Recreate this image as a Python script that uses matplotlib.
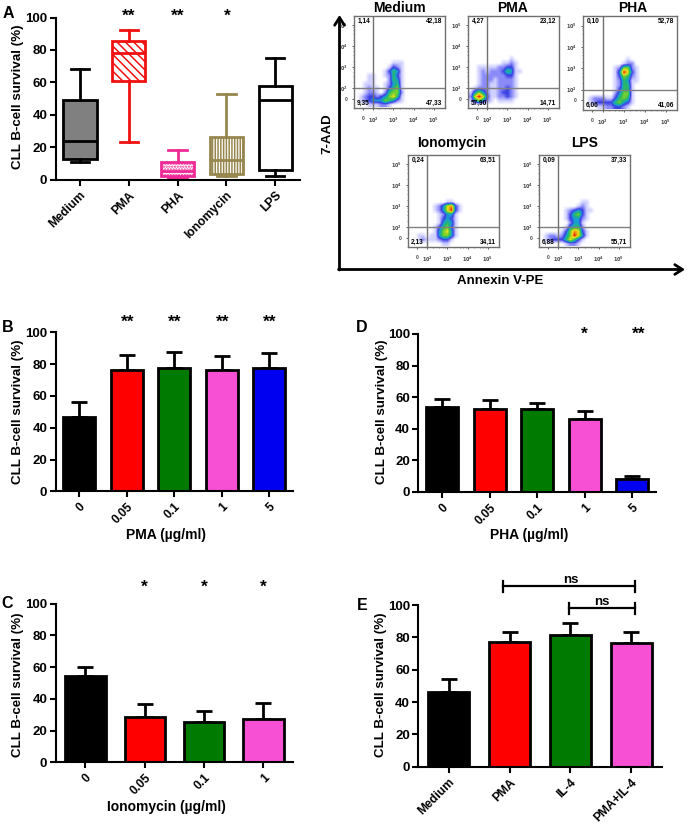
import numpy as np
import matplotlib
matplotlib.use("Agg")
import matplotlib.pyplot as plt
from matplotlib.colors import LinearSegmentedColormap

plt.rcParams['font.family'] = ['Liberation Sans', 'DejaVu Sans']
plt.rcParams['font.weight'] = 'bold'
plt.rcParams['hatch.linewidth'] = 1.1

# panel A, box plots
a_labels = ['Medium', 'PMA', 'PHA', 'Ionomycin', 'LPS']
a_low = [11, 23, 1, 2, 2]
a_q1 = [12.5, 60.5, 2, 3.5, 6]
a_med = [24, 78, 5, 12, 49]
a_q3 = [49, 85.5, 10.5, 26, 58]
a_high = [68, 92, 18, 53, 75]
a_colors = ['black', '#f01010', '#ee2a96', '#97874f', 'black']
a_faces = ['#808080', 'white', 'white', 'white', 'white']
a_hatch = [None, '\\\\\\\\', '......', '||||||', None]

# bar panels
b_labels = ['0', '0.05', '0.1', '1', '5']
b_vals = [47, 76, 77.5, 76, 77.5]
b_err = [9, 9.5, 10, 9, 9.5]

c_labels = ['0', '0.05', '0.1', '1']
c_vals = [54.5, 28.5, 25.5, 27.5]
c_err = [5.5, 8.5, 7, 10]

d_labels = ['0', '0.05', '0.1', '1', '5']
d_vals = [54, 52.5, 52.5, 46.5, 8.5]
d_err = [5, 6, 4, 4.5, 1.5]

e_labels = ['Medium', 'PMA', 'IL-4', 'PMA+IL-4']
e_vals = [46, 77, 81.5, 76.5]
e_err = [8.5, 6, 7.5, 6.5]

bar_colors = ['black', '#ff0000', '#007a00', '#f750d5', '#0000f0']

# flow panels, density level per cell (0 empty .. 9 highest)
medium_grid = [
    '000000000000000', '000000000000000', '000000000000000', '000000000000000',
    '000000000111000', '000000001321000', '000000013541000', '000110012531000',
    '000110002541000', '001110012451000', '001211013561000', '001221025662000',
    '012332346751000', '012344465421000', '000111221000000']
pma_grid = [
    '000000000000000', '000000000000000', '000000000000000', '000000000010000',
    '000000001121000', '001111122331000', '001212223541100', '001222222331000',
    '001222122221000', '001221122221000', '012221122321000', '146421123321000',
    '279731122321000', '146421011110000', '000000000000000']
pha_grid = [
    '000000000000000', '000000000000000', '000000000000000', '000000000010000',
    '000000000122000', '000000012662100', '000000014973100', '000000013652100',
    '000000012541100', '000000012551000', '000000013551000', '000000024661000',
    '012221135651000', '012333356431000', '000112233210000']
iono_grid = [
    '000000000000000', '000000000000000', '000000000000000', '000000000000000',
    '000000000110000', '000000124783100', '000000124793100', '000000012441000',
    '000000013431000', '000000014541000', '000000135631000', '000000146741000',
    '001101146641000', '001211123310000', '000000001100000']
lps_grid = [
    '000000000000000', '000000000000000', '000000000000000', '000000000000000',
    '000000000011000', '000000000121000', '000000123431100', '000000135631000',
    '000000134421000', '000000024410000', '000000145520000', '000001368731000',
    '012212469741000', '012333575310000', '000000122100000']

medium_pct = ['1,14', '42,18', '9,35', '47,33']
pma_pct = ['4,27', '23,12', '57,90', '14,71']
pha_pct = ['0,10', '52,78', '6,06', '41,06']
iono_pct = ['0,24', '63,51', '2,13', '34,11']
lps_pct = ['0,09', '37,33', '6,88', '55,71']

W, H = 689, 826
fig = plt.figure(figsize=(W / 100, H / 100), dpi=100)


def px_axes(left, right, top, bottom):
    return fig.add_axes([left / W, 1 - bottom / H, (right - left) / W, (bottom - top) / H])


def style_axes(ax, labels):
    ax.spines['top'].set_visible(False)
    ax.spines['right'].set_visible(False)
    ax.spines['left'].set_linewidth(1.5)
    ax.spines['bottom'].set_linewidth(1.5)
    ax.set_ylim(0, 100)
    ax.set_yticks([0, 20, 40, 60, 80, 100])
    ax.set_xlim(0.5, len(labels) + 0.5)
    ax.set_xticks(range(1, len(labels) + 1))
    ax.set_xticklabels(labels, rotation=45, ha='right', rotation_mode='anchor', fontsize=8.7)
    ax.tick_params(axis='y', length=4, width=1.5, labelsize=9.5, pad=2)
    ax.tick_params(axis='x', length=4, width=1.5, pad=3)


def bar_panel(box, labels, vals, err):
    ax = px_axes(*box)
    x = np.arange(1, len(vals) + 1)
    ax.errorbar(x, vals, yerr=[np.zeros(len(err)), err], fmt='none', ecolor='black',
                elinewidth=2, capsize=6, capthick=2, zorder=1)
    ax.bar(x, vals, width=0.68, color=bar_colors[:len(vals)], edgecolor='black',
           linewidth=2, zorder=2)
    style_axes(ax, labels)
    return ax


# panel A
ax_a = px_axes(55.6, 299.5, 17.5, 179.5)
stats = []
for i in range(5):
    stats.append({'whislo': a_low[i], 'q1': a_q1[i], 'med': a_med[i], 'q3': a_q3[i],
                  'whishi': a_high[i], 'fliers': []})
parts = ax_a.bxp(stats, positions=range(1, 6), widths=0.68, capwidths=0.38,
                 patch_artist=True, showfliers=False, manage_ticks=False)
for i in range(5):
    box = parts['boxes'][i]
    box.set_facecolor(a_faces[i])
    box.set_edgecolor(a_colors[i])
    box.set_linewidth(2)
    if a_hatch[i]:
        box.set_hatch(a_hatch[i])
    parts['medians'][i].set_color(a_colors[i])
    parts['medians'][i].set_linewidth(2)
    for k in (2 * i, 2 * i + 1):
        parts['whiskers'][k].set_color(a_colors[i])
        parts['whiskers'][k].set_linewidth(2)
        parts['caps'][k].set_color(a_colors[i])
        parts['caps'][k].set_linewidth(2)
style_axes(ax_a, a_labels)

bar_panel((55.6, 292.8, 332.3, 491.3), b_labels, b_vals, b_err)
bar_panel((55.7, 293, 603.7, 762.3), c_labels, c_vals, c_err)
bar_panel((418.4, 656, 334, 492), d_labels, d_vals, d_err)
bar_panel((418.4, 661.7, 605, 766.7), e_labels, e_vals, e_err)

# flow cytometry panels
flow_cmap = LinearSegmentedColormap.from_list(
    'flow', ['white', '#d0d0ff', '#8a8af8', '#3a40e0', '#18a0d0', '#28b868',
             '#78d030', '#e8e020', '#f09010', '#e81010'])


def flow_panel(box, grid, pct, title, title_x, title_y):
    ax = px_axes(*box)
    cells = np.array([[int(c) for c in row] for row in grid])
    ax.imshow(cells, cmap=flow_cmap, vmin=0, vmax=9, aspect='auto',
              extent=(1.1, 4.1, 1.1, 4.1), interpolation='bilinear')
    ax.set_xlim(1.05, 5.55)
    ax.set_ylim(1.05, 5.45)
    ax.axvline(2, color='#707070', lw=1)
    ax.axhline(2, color='#808080', lw=1)
    for s in ax.spines.values():
        s.set_color('#707070')
        s.set_linewidth(1)
    ticks = [1.5, 2, 3, 4, 5]
    names = ['0', '$10^2$', '$10^3$', '$10^4$', '$10^5$']
    ax.set_xticks(ticks)
    ax.set_xticklabels(names)
    ax.set_yticks(ticks)
    ax.set_yticklabels(names)
    minor = [d + np.log10(k) for d in (2, 3, 4) for k in (2, 4, 6, 8)]
    ax.set_xticks(minor, minor=True)
    ax.set_yticks(minor, minor=True)
    ax.tick_params(axis='both', which='major', length=1.5, width=0.6, labelsize=3.5,
                   color='#444444', labelcolor='#444444')
    ax.tick_params(axis='x', which='major', pad=4)
    ax.tick_params(axis='y', which='major', pad=3)
    ax.tick_params(axis='both', which='minor', length=1, width=0.4, color='#444444')
    ax.text(0.04, 0.94, pct[0], transform=ax.transAxes, fontsize=4.7, va='center', ha='left')
    ax.text(0.97, 0.94, pct[1], transform=ax.transAxes, fontsize=4.7, va='center', ha='right')
    ax.text(0.03, 0.05, pct[2], transform=ax.transAxes, fontsize=4.7, va='center', ha='left')
    ax.text(0.97, 0.05, pct[3], transform=ax.transAxes, fontsize=4.7, va='center', ha='right')
    over.text(title_x, title_y, title, fontsize=10, ha='center', va='center')


# overlay in pixel coordinates, for labels and annotations
over = fig.add_axes([0, 0, 1, 1], zorder=10)
over.set_xlim(0, W)
over.set_ylim(H, 0)
over.axis('off')
over.patch.set_alpha(0)

flow_panel((354, 445, 16, 108), medium_grid, medium_pct, 'Medium', 399, 8)
flow_panel((468, 559, 16, 108), pma_grid, pma_pct, 'PMA', 512, 8)
flow_panel((583, 677, 16, 110), pha_grid, pha_pct, 'PHA', 633, 8)
flow_panel((408, 499, 155, 247), iono_grid, iono_pct, 'Ionomycin', 452, 143)
flow_panel((539, 630, 155, 247), lps_grid, lps_pct, 'LPS', 585, 143)

# big arrows of the flow block
arrow = dict(arrowstyle='->,head_length=0.55,head_width=0.35', color='black', lw=2, shrinkA=0, shrinkB=0)
over.annotate('', xy=(339.5, 15), xytext=(339.5, 270), arrowprops=arrow)
over.annotate('', xy=(685, 269.5), xytext=(338.5, 269.5), arrowprops=arrow)
over.text(327, 134, '7-AAD', rotation=90, fontsize=9.5, ha='center', va='center')
over.text(500, 281, 'Annexin V-PE', fontsize=9.5, ha='center', va='center')

# panel letters
for name, px, py in [('A', 8, 13), ('B', 8, 328), ('C', 7, 603), ('D', 362, 328), ('E', 362, 606)]:
    over.text(px, py, name, fontsize=11.5, ha='center', va='center')

# y labels and x labels
for px, py in [(18, 97), (18, 412), (18, 685), (382, 412), (381, 685)]:
    over.text(px, py, 'CLL B-cell survival (%)', rotation=90, fontsize=9.6, ha='center', va='center')
over.text(166, 535, 'PMA (µg/ml)', fontsize=10, ha='center', va='center')
over.text(166, 807, 'Ionomycin (µg/ml)', fontsize=10, ha='center', va='center')
over.text(529, 535, 'PHA (µg/ml)', fontsize=10, ha='center', va='center')

# significance marks
stars = [(129, 16, '**'), (178, 16, '**'), (227, 16, '*'),
         (128, 322, '**'), (175, 322, '**'), (223, 322, '**'), (270, 322, '**'),
         (144, 587, '*'), (204, 587, '*'), (263, 587, '*'),
         (584, 334, '*'), (639, 334, '**')]
for px, py, s in stars:
    over.text(px, py, s, fontsize=12.5, ha='center', va='center')

# ns brackets of panel E
for x0, x1, py, tx, ty in [(502.7, 635.3, 586, 571, 580), (569, 635.3, 608.3, 601.7, 602)]:
    over.plot([x0, x1], [py, py], color='black', lw=1.6)
    over.plot([x0, x0], [py - 5.5, py + 5.5], color='black', lw=1.6)
    over.plot([x1, x1], [py - 5.5, py + 5.5], color='black', lw=1.6)
    over.text(tx, ty, 'ns', fontsize=9.5, ha='center', va='center')
over.set_xlim(0, W)
over.set_ylim(H, 0)

fig.savefig('out.png', dpi=100)
